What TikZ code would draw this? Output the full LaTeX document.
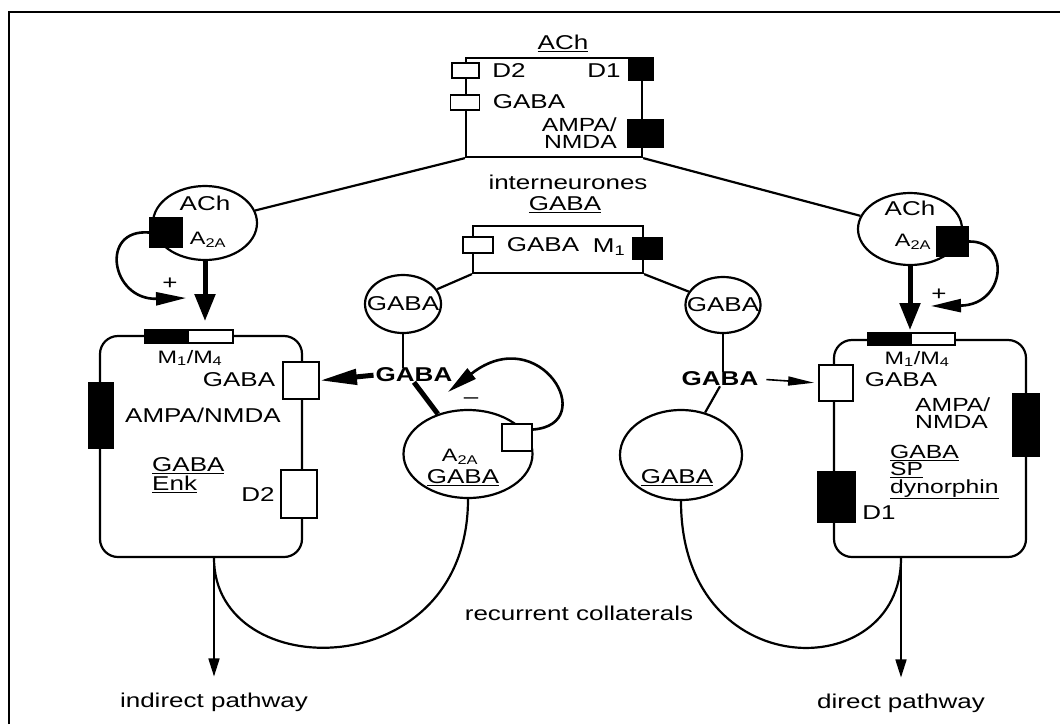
\documentclass[tikz,border=0pt]{standalone}
\usepackage{fontspec}
\setmainfont{Liberation Sans}[FakeStretch=1.3]
\usetikzlibrary{arrows.meta,shapes.geometric,calc}

\begin{document}
\begin{tikzpicture}[
    x=1pt, y=-1pt,
    every node/.style={font=\fontsize{20}{17}\selectfont, inner sep=0pt},
    cellbox/.style={draw, line width=2.2pt, rounded corners=18pt},
    interbox/.style={draw, line width=2.2pt},
    soma/.style={draw, ellipse, line width=2.2pt},
    openrec/.style={draw, fill=white, line width=1.8pt},
    fullrec/.style={draw, fill=black, line width=1.8pt},
    axon/.style={line width=2.2pt},
    smalltxt/.style={font=\fontsize{18}{16}\selectfont},
    stacktxt/.style={font=\fontsize{19}{17.5}\selectfont},
    boldtxt/.style={font=\fontsize{20}{17}\selectfont\bfseries},
    thickarrow/.style={line width=5pt, -{Triangle[length=27pt,width=20pt]}},
    looparrow/.style={line width=2.6pt, -{Triangle[length=30pt,width=13pt]}},
    thinarrow/.style={line width=1.6pt, -{Triangle[length=18pt,width=11pt]}},
]
\useasboundingbox (0,0) rectangle (1060,724);

% ===== Frame =====
\draw[line width=2.5pt] (9,724) -- (9,12) -- (1060,12);

% ===== ACh interneurone =====
\node[interbox, minimum width=176, minimum height=99] (achbox) at (554,107.5) {};
\node (achtitle) at (563,43) {\underline{ACh}};
\node[openrec, minimum width=27, minimum height=15] (achD2) at (465.5,70.5) {};
\node[openrec, minimum width=29, minimum height=15] (achGABA) at (465,102.5) {};
\node[fullrec, minimum width=25, minimum height=22] (achD1) at (641,69) {};
\node[fullrec, minimum width=35, minimum height=27] (achAMPA) at (645.5,133.5) {};
\node (achD2lbl) at (509,71) {D2};
\node (achD1lbl) at (604,71) {D1};
\node (achGABAlbl) at (529,102) {GABA};
\node[stacktxt, align=right, anchor=east] (achAMPAlbl) at (617,133) {AMPA/\\NMDA};
\node (internlbl) at (568,182) {interneurones};
\node (interngaba) at (565,205) {\underline{GABA}};

% ===== GABA interneurone =====
\node[interbox, minimum width=170, minimum height=47] (gababox) at (558,249.5) {};
\node[openrec, minimum width=30, minimum height=16] (gababoxrec) at (478,245) {};
\node[fullrec, minimum width=29, minimum height=21] (gababoxm1) at (647.5,248.5) {};
\node (gababoxlbl) at (543,245) {GABA};
\node (gababoxm1lbl) at (609,247) {M\textsubscript{1}};

% ===== ACh terminals =====
\node[soma, minimum width=104, minimum height=74] (achL) at (205,223) {};
\node (achLname) at (205,203) {ACh};
\node[smalltxt] (achLa2a) at (208,240) {A\textsubscript{2A}};
\node[fullrec, minimum width=32, minimum height=29] (achLrec) at (166,232.5) {};

\node[soma, minimum width=104, minimum height=72] (achR) at (910,229) {};
\node (achRname) at (910,208) {ACh};
\node[smalltxt] (achRa2a) at (913,242) {A\textsubscript{2A}};
\node[fullrec, minimum width=31, minimum height=29] (achRrec) at (952.5,241.5) {};

% ===== GABA terminals =====
\node[soma, minimum width=76, minimum height=58] (gabaL) at (403,304) {};
\node (gabaLname) at (403,304) {GABA};
\node[soma, minimum width=75, minimum height=56] (gabaR) at (723,305) {};
\node (gabaRname) at (723,305) {GABA};
\node[boldtxt] (boldL) at (414,375) {GABA};
\node[boldtxt] (boldR) at (720,379) {GABA};

% ===== Projection neurones (middle) =====
\node[soma, minimum width=129, minimum height=88] (a2a) at (468,454) {};
\node[smalltxt] (a2aname) at (460,457) {A\textsubscript{2A}};
\node (a2agaba) at (463,478) {\underline{GABA}};
\node[openrec, minimum width=30, minimum height=27] (a2arec) at (517,437.5) {};

\node[soma, minimum width=122, minimum height=90] (gabaLow) at (681,455) {};
\node (gabaLowname) at (677,478) {\underline{GABA}};

% ===== Left cell (indirect) =====
\node[cellbox, minimum width=202, minimum height=221] (cellL) at (201,446.5) {};
\node[fullrec, minimum width=43, minimum height=13] (m1L) at (166.5,336.5) {};
\node[openrec, minimum width=45, minimum height=13] (m4L) at (210.5,336.5) {};
\node[openrec, minimum width=36, minimum height=37] (gabarecL) at (301,380.5) {};
\node[openrec, minimum width=36, minimum height=48] (d2recL) at (299,494) {};
\node[fullrec, minimum width=25, minimum height=65] (amparecL) at (101,415.5) {};
\node[smalltxt] (m14Llbl) at (190,358) {M\textsubscript{1}/M\textsubscript{4}};
\node (gabaLlbl) at (239,380) {GABA};
\node (ampaLlbl) at (203,415) {AMPA/NMDA};
\node[align=left, anchor=west] (enkLlbl) at (152,475) {\underline{GABA}\\[2pt]\underline{Enk}};
\node (d2Llbl) at (258,495) {D2};

% ===== Right cell (direct) =====
\node[cellbox, minimum width=192, minimum height=217] (cellR) at (930,448.5) {};
\node[fullrec, minimum width=43, minimum height=12] (m1R) at (889.5,339) {};
\node[openrec, minimum width=44, minimum height=12] (m4R) at (933,339) {};
\node[openrec, minimum width=34, minimum height=36] (gabarecR) at (836,383) {};
\node[fullrec, minimum width=37, minimum height=50] (d1recR) at (836.5,497) {};
\node[fullrec, minimum width=26, minimum height=62] (amparecR) at (1026,425) {};
\node[smalltxt] (m14Rlbl) at (917,359) {M\textsubscript{1}/M\textsubscript{4}};
\node (gabaRlbl) at (901,380) {GABA};
\node[stacktxt, align=left, anchor=west] (ampaRlbl) at (915,413) {AMPA/\\NMDA};
\node[stacktxt, align=left, anchor=west] (spRlbl) at (890,472) {\underline{GABA}\\\underline{SP}\\\underline{dynorphin}};
\node (d1Rlbl) at (879,513) {D1};

% ===== Outputs =====
\coordinate (outL) at ($(cellL.south)+(13,0)$);
\coordinate (outR) at ($(cellR.south)+(-29,0)$);
\node (indirect) at (214,702) {indirect pathway};
\node (direct) at (901,703) {direct pathway};
\node (recurrent) at (579,613) {recurrent collaterals};

% ===== Interneurone branches =====
\draw[axon] (achbox.south west) -- (achL);
\draw[axon] (achbox.south east) -- (achR);
\draw[axon] (gababox.south west) -- (gabaL);
\draw[axon] (gababox.south east) -- (gabaR);
\draw[axon] (gabaL.south) -- (gabaL.south |- boldL.north);
\draw[axon] (gabaR.south) -- (gabaR.south |- boldR.north);
\draw[line width=5pt] (boldL.south) -- (a2a);
\draw[axon] (boldR.south) -- (gabaLow);

% ===== Arrows =====
\draw[thickarrow, shorten >=8pt] (achL.south) -- (achL.south |- m4L.north);
\draw[thickarrow, shorten >=2pt] (achR.south) -- (achR.south |- m4R.north);
\draw[thickarrow, -{Triangle[length=37pt,width=15pt]}, shorten <=2pt] (boldL.west) -- (gabarecL.east);
\draw[thinarrow, -{Triangle[length=26pt,width=9pt]}, shorten <=8pt, shorten >=4pt] (boldR.east) -- (gabarecR.west);

% loops
\coordinate (plusL) at (186,298);
\coordinate (plusR) at (931,306);
\coordinate (minusTip) at (448,392);
\draw[looparrow] (achLrec.west) .. controls +(-50,-4) and +(-75,2) .. (plusL);
\draw[looparrow] (achRrec.east) .. controls +(42,-1) and +(75,-1) .. (plusR);
\draw[looparrow] ($(a2arec.east)+(0,-8)$) .. controls +(68,-5) and +(92,-72) .. (minusTip);
\node (plusLlbl) at (170,284) {+};
\node (plusRlbl) at (939,295) {+};
\node (minuslbl) at (471,401) {--};

% ===== Recurrent collaterals =====
\draw[axon] (a2a.south) .. controls +(0,187) and +(0,128) .. (outL);
\draw[axon] (gabaLow.south) .. controls +(0,185) and +(0,128) .. (outR);
\draw[thinarrow, shorten >=16pt] (outL) -- (outL |- indirect.north);
\draw[thinarrow, shorten >=16pt] (outR) -- (outR |- direct.north);

\end{tikzpicture}
\end{document}
